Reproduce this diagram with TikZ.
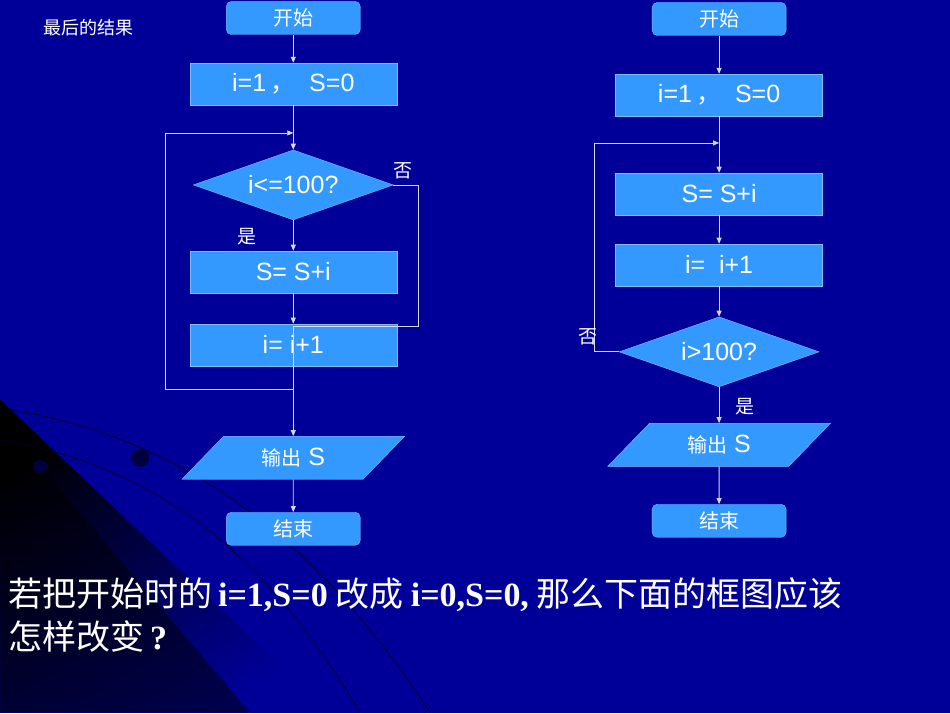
\documentclass[tikz,border=0pt]{standalone}
\usepackage{fontspec}
\setmainfont{Liberation Sans}
\newfontfamily\cjk{Noto Sans CJK SC}
\newfontfamily\serifb{Liberation Serif}
\usetikzlibrary{shapes.geometric,arrows.meta}
\definecolor{bg}{HTML}{000099}
\definecolor{boxc}{HTML}{3399FF}
\definecolor{edgec}{HTML}{7FBFFF}
\begin{document}
\begin{tikzpicture}[x=1pt,y=-1pt,
 every node/.style={text=white,inner sep=0},
 proc/.style={draw=edgec,fill=boxc,minimum width=207pt,minimum height=42pt,font=\fontsize{25}{25}\selectfont},
 term/.style={draw=edgec,fill=boxc,rounded corners=5pt,minimum width=134pt,minimum height=33pt,font=\cjk\fontsize{20}{20}\selectfont},
 dec/.style={draw=edgec,fill=boxc,diamond,aspect=2.9,minimum width=200pt,minimum height=70pt,font=\fontsize{25}{25}\selectfont},
 io/.style={draw=edgec,fill=boxc,trapezium,trapezium left angle=45,trapezium right angle=135,minimum width=223pt,minimum height=43pt,trapezium stretches=true,font=\fontsize{25}{25}\selectfont},
 lbl/.style={font=\cjk\fontsize{19}{19}\selectfont},
 ln/.style={draw=white!85!blue,line width=0.8pt},
 arr/.style={ln,-{Triangle[length=6pt,width=5pt]}}]
\fill[bg] (0,0) rectangle (950,713);
\shade[left color=black,right color=bg,shading angle=30] (0,400) -- (0,713) -- (330,713) -- cycle;
\fill[black,opacity=0.5] (0,420) -- (0,713) -- (250,713) -- cycle;
\draw[black!70!bg,line width=0.8pt] (10,410) .. controls (200,440) and (330,560) .. (430,713);
\draw[black!70!bg,line width=0.8pt] (0,440) .. controls (180,470) and (280,580) .. (360,713);
\fill[black!60!bg] (140,458) circle (9);
\fill[black!60!bg] (40,467) circle (7);
\node[font=\cjk\fontsize{18}{18}\selectfont] (title) at (88,28) {最后的结果};
% left chart
\node[term] (s1) at (293,18) {开始};
\node[proc] (a1) at (293,84) {i=1\,{\cjk ，}\ \ S=0};
\node[dec] (d1) at (293,185) {i<=100?};
\node[proc] (b1) at (293,272) {S= S+i};
\node[proc] (c1) at (293,345) {i= i+1};
\node[io] (o1) at (293,458) {{\cjk\fontsize{20}{20}\selectfont 输出} S};
\node[term] (e1) at (293,529) {结束};
\coordinate (j1) at (293,133);
\coordinate (k1) at (293,327);
\coordinate (m1) at (293,390);
\draw[arr] (s1) -- (a1);
\draw[ln] (a1) -- (j1);
\draw[arr] (j1) -- (d1);
\draw[arr] (d1) -- (b1);
\draw[arr] (b1) -- (c1);
\draw[ln] (d1.east) -- (418,185) -- (418,327) -- (k1);
\draw[ln] (k1) -- (m1);
\draw[arr] (m1) -- (o1);
\draw[arr] (o1) -- (e1);
\draw[arr] (c1.south) -- (293,390) -- (165,390) -- (165,133) -- (j1);
\node[lbl] (no1) at (403,171) {否};
\node[lbl] (yes1) at (247,237) {是};
% right chart
\node[term] (s2) at (719,19) {开始};
\node[proc] (a2) at (719,95) {i=1\,{\cjk ，}\ \ S=0};
\node[proc] (b2) at (719,194) {S= S+i};
\node[proc] (c2) at (719,265) {i=\ \ i+1};
\node[dec] (d2) at (719,352) {i>100?};
\node[io] (o2) at (719,445) {{\cjk\fontsize{20}{20}\selectfont 输出} S};
\node[term] (e2) at (719,521) {结束};
\coordinate (j2) at (719,143);
\draw[arr] (s2) -- (a2);
\draw[ln] (a2) -- (j2);
\draw[arr] (j2) -- (b2);
\draw[arr] (b2) -- (c2);
\draw[arr] (c2) -- (d2);
\draw[arr] (d2) -- (o2);
\draw[arr] (o2) -- (e2);
\draw[arr] (d2.west) -- (594,352) -- (594,143) -- (j2);
\node[lbl] (no2) at (588,337) {否};
\node[lbl] (yes2) at (745,407) {是};
% question
\node[anchor=west,font=\fontsize{34}{34}\selectfont] (q1) at (8,595) {\cjk 若把开始时的\,{\serifb\bfseries i=1,S=0} 改成 {\serifb\bfseries i=0,S=0,} 那么下面的框图应该};
\node[anchor=west,font=\fontsize{34}{34}\selectfont] (q2) at (8,637) {\cjk 怎样改变\,{\serifb\bfseries ?}};
\end{tikzpicture}
\end{document}
